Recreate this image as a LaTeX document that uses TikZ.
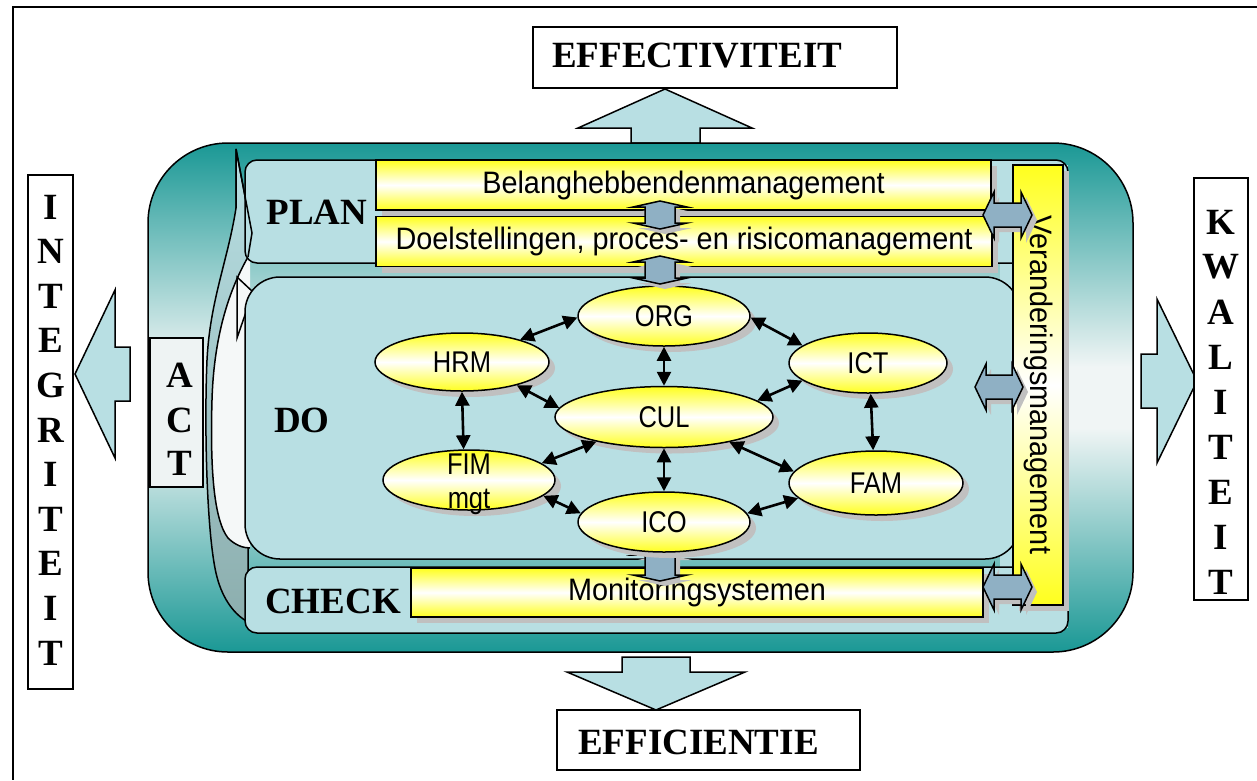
\documentclass[tikz,border=0pt]{standalone}
\usepackage{fontspec}
\setmainfont{Liberation Serif}
\newfontfamily\sansbar[FakeStretch=0.93]{Liberation Sans}
\newfontfamily\sansoval[FakeStretch=0.85]{Liberation Sans}
\usetikzlibrary{arrows.meta,shapes.geometric}
\definecolor{tealc}{RGB}{26,152,149}
\definecolor{tealwhite}{RGB}{240,245,245}
\definecolor{panelc}{RGB}{184,223,227}
\definecolor{dblblue}{RGB}{143,176,196}
\definecolor{yel}{RGB}{255,255,30}
\definecolor{shadowg}{RGB}{192,192,192}
\definecolor{bandlight}{RGB}{240,245,245}
\definecolor{banddark}{RGB}{140,174,174}
\definecolor{bandwhite}{RGB}{245,248,248}
\definecolor{actfill}{RGB}{238,243,243}
\pgfdeclareverticalshading{tealfade}{100bp}{color(0bp)=(tealc); color(25bp)=(tealc); color(47bp)=(tealwhite); color(53bp)=(tealwhite); color(75bp)=(tealc); color(100bp)=(tealc)}
\newcommand\HDArrow[3]{%
\draw[dblarrow] (#1,#3) -- (#1+11,#3-23) -- (#1+11,#3-12) -- (#2-11,#3-12) -- (#2-11,#3-23) -- (#2,#3) -- (#2-11,#3+23) -- (#2-11,#3+12) -- (#1+11,#3+12) -- (#1+11,#3+23) -- cycle;}
\newcommand\VDArrow[3]{%
\draw[dblarrow] (#1,#2) -- (#1+27,#2+6) -- (#1+15,#2+6) -- (#1+15,#3-6) -- (#1+27,#3-6) -- (#1,#3) -- (#1-27,#3-6) -- (#1-15,#3-6) -- (#1-15,#2+6) -- (#1-27,#2+6) -- cycle;}
\tikzset{
  lw/.style={line width=1.5pt},
  serifb/.style={font=\fontsize{37}{40}\selectfont\bfseries, inner sep=0pt},
  sanstext/.style={font=\sansbar\fontsize{31}{33}\selectfont},
  ovaltext/.style={font=\sansoval\fontsize{30}{34}\selectfont, inner sep=0pt},
  wbox/.style={draw=black, lw, fill=white, inner sep=0pt},
  bigarrow/.style={draw=black, lw, fill=panelc},
  panelst/.style={draw=black, lw, fill=panelc},
  shadowed/.style={preaction={fill=shadowg, draw=none, transform canvas={shift={(6pt,-6pt)}}}},
  yw/.style={top color=yel, bottom color=yel, middle color=white},
  bar/.style={draw=black, lw, yw, inner sep=0pt, shadowed, sanstext},
  oval/.style={ellipse, draw=black, lw, yw, inner sep=0pt, shadowed, ovaltext},
  dblarrow/.style={fill=dblblue, draw=black, lw, preaction={fill=shadowg, draw=none, transform canvas={shift={(5pt,-5pt)}}}},
  conn/.style={{Triangle[length=14pt,width=14pt]}-{Triangle[length=14pt,width=14pt]}, line width=2.6pt},
}
\begin{document}
\begin{tikzpicture}[x=1pt,y=-1pt]
\useasboundingbox (0,0) rectangle (1257,780);
\clip (0,0) rectangle (1257,780);
% page frame
\draw[lw] (1257,7) -- (13,7) -- (13,780);
% top output
\draw[bigarrow] (665,89) -- (752,128) -- (700,128) -- (700,143) -- (631,143) -- (631,128) -- (578,128) -- cycle;
\node[wbox, minimum width=364pt, minimum height=61pt] (effbox) at (715,57.5) {};
\node[serifb, anchor=base west] (efftxt) at (552,67) {EFFECTIVITEIT};
% big teal frame
\shadedraw[shading=tealfade, draw=black, lw, rounded corners=80pt] (148,143) rectangle (1133,652);
% bottom output
\draw[bigarrow] (622,657) -- (690,657) -- (690,672) -- (745,672) -- (656,710) -- (567,672) -- (622,672) -- cycle;
\node[wbox, minimum width=303pt, minimum height=60pt] (efibox) at (708.5,740) {};
\node[serifb, anchor=base west] (efitxt) at (578,754) {EFFICIENTIE};
% side outputs
\draw[bigarrow] (75,374) -- (115,290) -- (115,347) -- (130,347) -- (130,401) -- (115,401) -- (115,458) -- cycle;
\draw[bigarrow] (1197,381) -- (1157,299) -- (1157,354) -- (1141,354) -- (1141,408) -- (1157,408) -- (1157,463) -- cycle;
\node[wbox, minimum width=45pt, minimum height=514pt] (intbox) at (50.5,432) {};
\foreach \ch [count=\i] in {I,N,T,E,G,R,I,T,E,I,T}
  \node[serifb] (int\i) at (50.5,{207+44.6*(\i-1)}) {\ch};
\node[wbox, minimum width=54pt, minimum height=422pt] (kwbox) at (1221,389) {};
\foreach \ch [count=\i] in {K,W,A,L,I,T,E,I,T}
  \node[serifb] (kw\i) at (1221,{222+45*(\i-1)}) {\ch};
% ACT
\node[draw=black, lw, fill=actfill, minimum width=53pt, minimum height=149pt] (actbox) at (176.5,412.5) {};
\node[serifb] (actA) at (180,375) {A};
\node[serifb] (actC) at (180,420) {C};
\node[serifb] (actT) at (180,463) {T};
% curved cycle arrows
\shadedraw[top color=panelc, middle color=bandlight, bottom color=banddark, draw=black, lw] (236,149) -- (236,208) .. controls (228,260) and (210,300) .. (207,360) .. controls (204,430) and (207,540) .. (217,577) .. controls (223,600) and (235,615) .. (248,622) -- (248,257) -- (252,233) -- cycle;
\fill[bandwhite] (248,257) .. controls (232,285) and (214,330) .. (212,400) .. controls (210,470) and (214,520) .. (228,538) .. controls (235,545) and (243,548) .. (250,548) -- (250,257) -- cycle;
\draw[lw] (248,257) .. controls (232,285) and (214,330) .. (212,400) .. controls (210,470) and (214,520) .. (228,538) .. controls (235,545) and (243,548) .. (250,548);
\filldraw[fill=bandwhite, draw=black, lw] (237,277) -- (237,338) -- (253,292) -- cycle;
% panels
\fill[panelc] (1000,165) rectangle (1068,628);
\draw[panelst, rounded corners=12pt] (245,160) rectangle (1068,263);
\draw[panelst, rounded corners=12pt] (245,567) rectangle (1068,633);
\draw[lw] (1068,250) -- (1068,580);
\draw[panelst, rounded corners=35pt] (245,277) rectangle (1020,559);
\draw[lw] (236,208) -- (236,149) -- (252,233) -- (248,257);
\node[serifb] (plan) at (317,212.5) {PLAN};
\node[serifb] (do) at (302,420) {DO};
\node[serifb] (check) at (333,601) {CHECK};
% bars
\node[bar, minimum width=615pt, minimum height=50pt] (belang) at (683.5,185) {Belanghebbendenmanagement};
\node[bar, minimum width=616pt, minimum height=50pt] (doel) at (684,241.5) {Doelstellingen, proces- en risicomanagement};
\node[bar, minimum width=572pt, minimum height=49pt] (monitor) at (697,592.5) {Monitoringsystemen};
\node[bar, minimum width=50pt, minimum height=440pt] (verand) at (1038,385) {};
\node[sanstext, rotate=-90, inner sep=0pt] (verandtxt) at (verand.center) {Veranderingsmanagement};
\VDArrow{660}{201}{229}
\VDArrow{660}{549}{581}
% ellipses
\node[oval, minimum width=172pt, minimum height=60pt] (ORG) at (664,316) {ORG};
\node[oval, minimum width=174pt, minimum height=58pt] (HRM) at (462,362) {HRM};
\node[oval, minimum width=158pt, minimum height=60pt] (ICT) at (868,363) {ICT};
\node[oval, minimum width=218pt, minimum height=61pt] (CUL) at (664,417) {CUL};
\node[oval, minimum width=172pt, minimum height=60pt] (FIM) at (469,480) {};
\node[ovaltext, align=center] (FIMtxt) at (469,484) {FIM\\mgt};
\node[oval, minimum width=174pt, minimum height=64pt] (FAM) at (876,483) {FAM};
\node[oval, minimum width=172pt, minimum height=60pt] (ICO) at (664,522) {ICO};
\VDArrow{660}{256}{284}
% connectors
\draw[conn] (ORG.181) -- (HRM.21);
\draw[conn] (ORG.-1) -- (ICT.165);
\draw[conn] (ORG.south) -- (CUL.north);
\draw[conn] (HRM.-23) -- (CUL.175);
\draw[conn] (CUL.10) -- (ICT.195);
\draw[conn] (HRM.south) -- (FIM.100);
\draw[conn] (FIM.13) -- (CUL.200);
\draw[conn] (CUL.south) -- (ICO.north);
\draw[conn] (CUL.-21) -- (FAM.172);
\draw[conn] (FIM.-12) -- (ICO.174);
\draw[conn] (ICO.6) -- (FAM.191);
\draw[conn] (ICT.-85) -- (FAM.95);
% side double arrows
\HDArrow{983}{1032}{215}
\HDArrow{975}{1023}{387}
\HDArrow{983}{1032}{587}
\end{tikzpicture}
\end{document}
